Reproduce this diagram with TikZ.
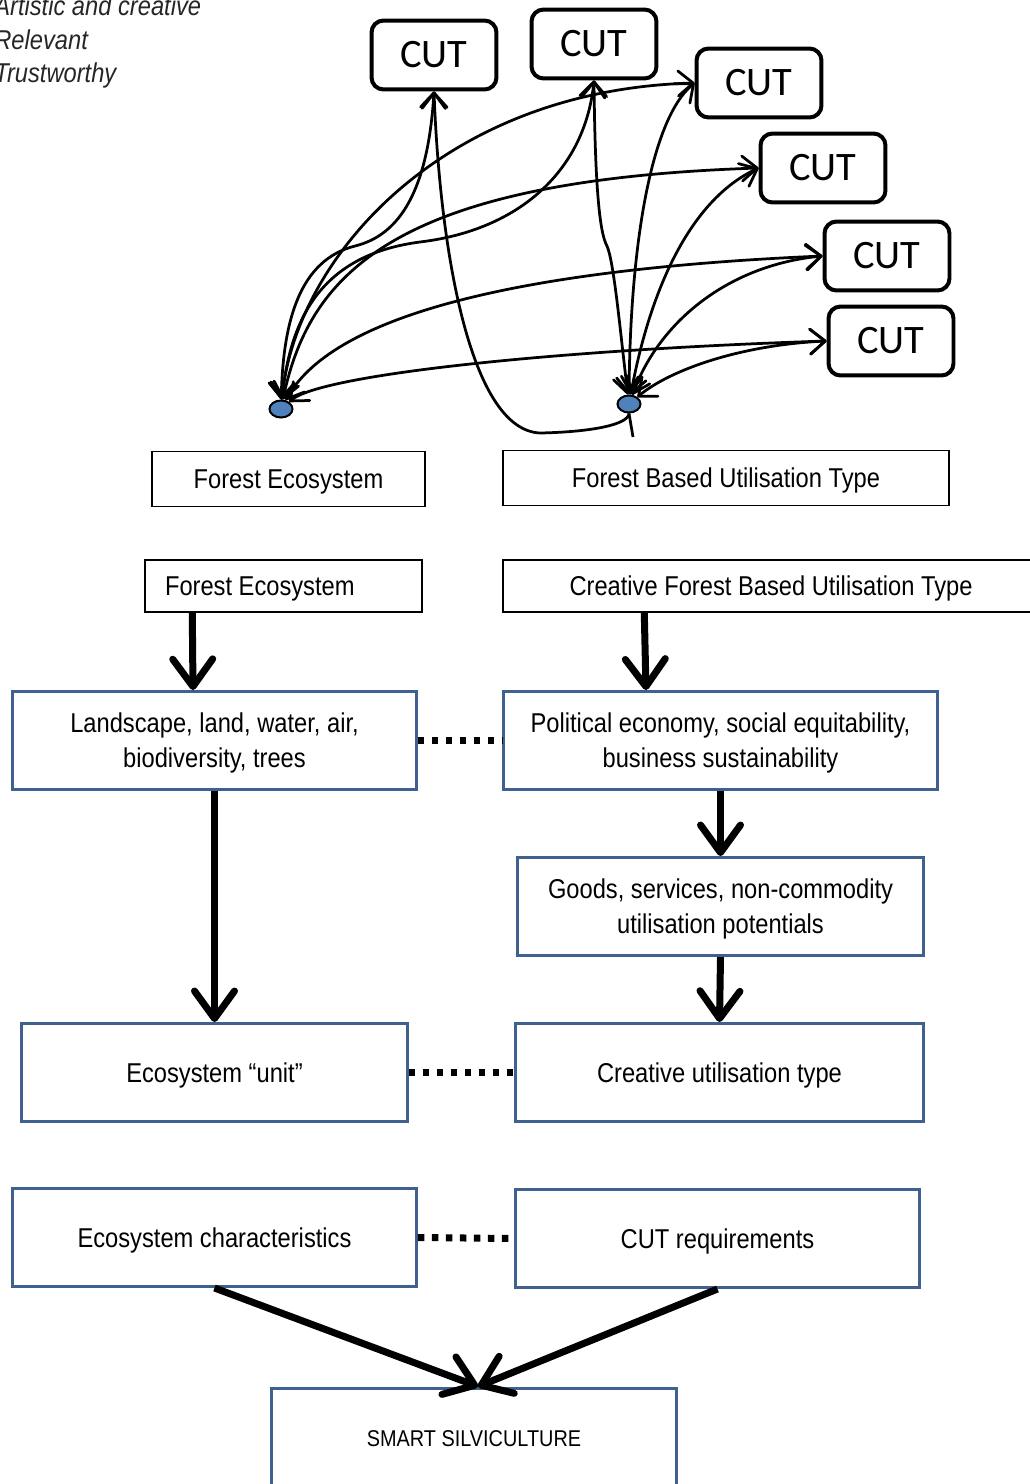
\documentclass[tikz,border=0pt]{standalone}
\usepackage{fontspec}
\setmainfont{Liberation Sans}[FakeStretch=0.87]
\newfontfamily\cutfont{Carlito}
\usetikzlibrary{arrows.meta, positioning, shapes.geometric}
\definecolor{boxblue}{HTML}{3F6190}
\definecolor{dotblue}{HTML}{4F81BD}

\begin{document}
\begin{tikzpicture}[x=0.02cm, y=-0.02cm,
    cut/.style={draw, rounded corners=0.24cm, line width=0.08cm, minimum width=2.5cm, minimum height=1.38cm, font=\cutfont\fontsize{23}{26}\selectfont},
    plain/.style={draw, line width=0.03cm, font=\fontsize{15.5}{20}\selectfont, text depth=0pt, minimum height=1.1cm},
    bluebox/.style={draw=boxblue, line width=0.06cm, align=center, font=\fontsize{15.5}{20}\selectfont, text depth=0pt, minimum height=1.96cm},
    dot/.style={ellipse, draw, fill=dotblue, line width=0.04cm, minimum width=0.46cm, minimum height=0.34cm, inner sep=0pt},
    link/.style={line width=0.055cm, {Straight Barb[round, length=0.3cm, width=0.5cm]}-{Straight Barb[round, length=0.3cm, width=0.5cm]}},
    flow/.style={line width=0.14cm, -{Straight Barb[round, length=0.55cm, width=0.8cm]}},
    tie/.style={line width=0.14cm, dash pattern=on 0.13cm off 0.15cm}
]
\useasboundingbox (0,0) rectangle (1029,1484);

% qualities
\node[anchor=west, align=flush left, inner sep=0pt, font=\itshape\fontsize{15.5}{19.3}\selectfont, text=black!85] (qual) at (-6,42) {Artistic and creative\\Relevant\\Trustworthy};

% CUT boxes
\node[cut] (c1) at (434,55) {CUT};
\node[cut] (c2) at (594,44) {CUT};
\node[cut] (c3) at (759,83) {CUT};
\node[cut] (c4) at (823,168) {CUT};
\node[cut] (c5) at (887,256) {CUT};
\node[cut] (c6) at (891,341) {CUT};

% the two dots
\node[dot] (ldot) at (281,409) {};
\node[dot] (rdot) at (629,404) {};
\coordinate (stub) at (633,437);

% links from the left dot
\draw[link] (ldot) .. controls (283,320) and (300,260) .. (355,246) .. controls (400,235) and (428,190) .. (c1.south);
\draw[link] (ldot) .. controls (290,320) and (320,255) .. (420,242) .. controls (520,230) and (585,170) .. (c2.south);
\draw[link] (ldot) .. controls (295,260) and (440,90) .. (c3.west);
\draw[link] (ldot) .. controls (310,270) and (400,180) .. (c4.west);
\draw[link] (ldot) .. controls (330,320) and (500,270) .. (c5.west);
\draw[link] (ldot) .. controls (320,375) and (550,350) .. (c6.west);

% links from the right dot
\draw[link] (rdot) .. controls (620,330) and (614,262) .. (607,246) .. controls (599,232) and (595,180) .. (c2.south);
\draw[link] (rdot) .. controls (630,250) and (650,120) .. (c3.west);
\draw[link] (rdot) .. controls (650,290) and (690,200) .. (c4.west);
\draw[link] (rdot) .. controls (660,320) and (730,265) .. (c5.west);
\draw[link] (rdot) .. controls (670,370) and (740,345) .. (c6.west);
\draw[line width=0.055cm, {Straight Barb[round, length=0.3cm, width=0.5cm]}-] (c1.south) .. controls (440,250) and (470,430) .. (540,433) .. controls (590,432) and (628,425) .. (rdot.south);
\draw[line width=0.055cm] (rdot.south) -- (stub);

% upper plain boxes
\node[plain, minimum width=5.46cm] (fe1) at (288.5,479) {Forest Ecosystem};
\node[plain, minimum width=8.92cm] (fbut) at (726,478) {Forest Based Utilisation Type};
\node[plain, minimum height=1.04cm, text width=4.74cm, inner xsep=0.4cm, align=flush left] (fe2) at (283.5,586) {Forest Ecosystem};
\node[plain, minimum width=10.72cm, minimum height=1.04cm] (cfbut) at (771,586) {Creative Forest Based Utilisation Type};

% blue boxes
\node[bluebox, minimum width=8.08cm] (land) at (214.5,740.5) {Landscape, land, water, air,\\biodiversity, trees};
\node[bluebox, minimum width=8.68cm] (pol) at (720.5,740.5) {Political economy, social equitability,\\business sustainability};
\node[bluebox, minimum width=8.12cm] (goods) at (720.5,906.5) {Goods, services, non-commodity\\utilisation potentials};
\node[bluebox, minimum width=7.72cm] (unit) at (214.5,1072.5) {Ecosystem “unit”};
\node[bluebox, minimum width=8.16cm] (cutt) at (719.5,1072.5) {Creative utilisation type};
\node[bluebox, minimum width=8.08cm] (char) at (214.5,1237.5) {Ecosystem characteristics};
\node[bluebox, minimum width=8.08cm] (req) at (717.5,1238.5) {CUT requirements};
\node[bluebox, minimum width=8.1cm, minimum height=2.04cm, font=\fontsize{13}{16}\selectfont] (smart) at (474,1439) {SMART SILVICULTURE};

% flow arrows
\draw[flow] ([xshift=0.96cm]fe2.south west) -- ([xshift=-0.43cm]land.north);
\draw[flow] ([xshift=2.84cm]cfbut.south west) -- ([xshift=-1.49cm]pol.north);
\draw[flow] (land.south) -- (unit.north);
\draw[flow] (pol.south) -- (goods.north);
\draw[flow] (goods.south) -- (cutt.north);
\draw[flow] (char.south) -- ([xshift=0.08cm]smart.north);
\draw[flow] (req.south) -- ([xshift=0.08cm]smart.north);

% dotted ties
\draw[tie] (land.east) -- (pol.west);
\draw[tie] (unit.east) -- (cutt.west);
\draw[tie] (char.east) -- (req.west);
\end{tikzpicture}
\end{document}
